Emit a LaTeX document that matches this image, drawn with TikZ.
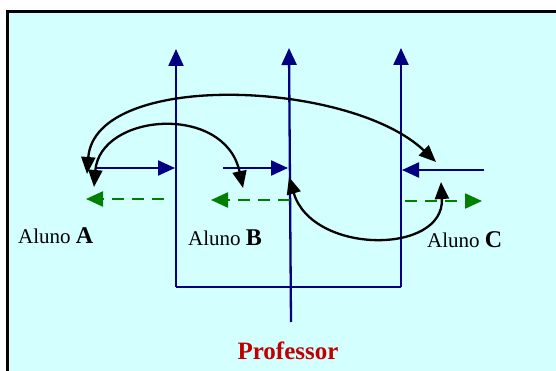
\documentclass[tikz,border=0pt]{standalone}
\usepackage{fontspec}
\setmainfont{Liberation Serif}
\usetikzlibrary{arrows.meta}
\definecolor{fundo}{RGB}{212,255,255}
\definecolor{azul}{RGB}{0,0,128}
\definecolor{verde}{RGB}{0,128,0}
\definecolor{vermelho}{RGB}{192,0,0}
\newcommand{\letra}[1]{{\fontsize{24}{27}\selectfont\bfseries #1}}

\begin{document}
\begin{tikzpicture}[x=1pt, y=-1pt, line width=2.3pt,
    seta/.style={-{Triangle[length=17pt,width=15pt]}},
    curva/.style={{Triangle[length=17pt,width=14pt]}-{Triangle[length=17pt,width=14pt]}, black},
    aluno/.style={anchor=base west, inner sep=0pt, font=\fontsize{21}{25}\selectfont}]
    \useasboundingbox (0,0) rectangle (556,371);
    % Moldura
    \fill[fundo] (7,12) rectangle (556,371);
    \draw[line width=3pt] (7,371) -- (7,12) -- (556,12);
    % Eixos azuis
    \draw[azul, seta] (176,287) -- (176,49);
    \draw[azul, seta] (291,322) -- (289,48);
    \draw[azul, seta] (401,287) -- (401,48);
    \draw[azul] (176,287) -- (401,287);
    \draw[azul, seta] (97,168) -- (175,168);
    \draw[azul, seta] (223,168) -- (288,168);
    \draw[azul, seta] (484,170) -- (402,170);
    % Setas verdes
    \draw[verde, seta, dash pattern=on 12pt off 8pt] (164,199) -- (86,199);
    \draw[verde, seta, dash pattern=on 12pt off 8pt] (290,200) -- (211,200);
    \draw[verde, seta, dash pattern=on 12pt off 8pt] (405,201) -- (482,201);
    % Trocas entre alunos
    \draw[curva] (87,174) .. controls (95,70) and (350,80) .. (436,162);
    \draw[curva] (94,187) .. controls (100,113) and (225,103) .. (243,188);
    \draw[curva] (289,177) .. controls (312,255) and (445,255) .. (441,182);
    % Legendas
    \node[aluno] (alunoA) at (17,243) {Aluno \letra{A}};
    \node[aluno] (alunoB) at (187,245) {Aluno \letra{B}};
    \node[aluno] (alunoC) at (426,247) {Aluno \letra{C}};
    \node[anchor=base, inner sep=0pt, vermelho, font=\fontsize{25}{30}\selectfont\bfseries] (prof) at (288,359) {Professor};
\end{tikzpicture}
\end{document}
